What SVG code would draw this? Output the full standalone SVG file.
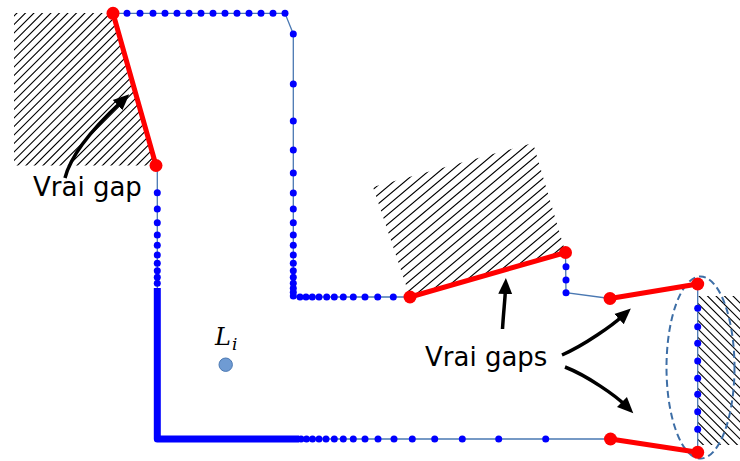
<svg xmlns="http://www.w3.org/2000/svg" width="740" height="461" viewBox="0 0 740 461">
<style>
.wall{stroke:#4a78b2;stroke-width:1.3;fill:none}
.pt{fill:#0000ff}
.gap{stroke:#ff0000;stroke-width:5;stroke-linecap:round;fill:none}
.gp{fill:#ff0000}
.arr{stroke:#000;stroke-width:3.5;fill:none;marker-end:url(#head)}
.lbl{font-family:"DejaVu Sans",sans-serif;font-size:26px;fill:#000}
.hl{stroke:#000;stroke-width:1.15;fill:none}
</style>
<defs>
<clipPath id="cA"><polygon points="14,13 113,13 156,165.5 14,165.5"/></clipPath>
<clipPath id="cB"><polygon points="410,297 373,187 533,143 565.5,252.5"/></clipPath>
<clipPath id="cC"><polygon points="698,296 740,296 740,445 698,445"/></clipPath>
<marker id="head" markerUnits="userSpaceOnUse" viewBox="0 -8 17 16" markerWidth="17" markerHeight="16" refX="4" refY="0" orient="auto"><path d="M0,-7 L16,0 L0,7 z" fill="#000"/></marker>
</defs>

<g id="obstacles">
<path class="hl" clip-path="url(#cA)" d="M-145,175 l170,-170 m-161.5,170 l170,-170 m-161.5,170 l170,-170 m-161.5,170 l170,-170 m-161.5,170 l170,-170 m-161.5,170 l170,-170 m-161.5,170 l170,-170 m-161.5,170 l170,-170 m-161.5,170 l170,-170 m-161.5,170 l170,-170 m-161.5,170 l170,-170 m-161.5,170 l170,-170 m-161.5,170 l170,-170 m-161.5,170 l170,-170 m-161.5,170 l170,-170 m-161.5,170 l170,-170 m-161.5,170 l170,-170 m-161.5,170 l170,-170 m-161.5,170 l170,-170 m-161.5,170 l170,-170 m-161.5,170 l170,-170 m-161.5,170 l170,-170 m-161.5,170 l170,-170 m-161.5,170 l170,-170 m-161.5,170 l170,-170 m-161.5,170 l170,-170 m-161.5,170 l170,-170 m-161.5,170 l170,-170 m-161.5,170 l170,-170 m-161.5,170 l170,-170 m-161.5,170 l170,-170 m-161.5,170 l170,-170 m-161.5,170 l170,-170 m-161.5,170 l170,-170 m-161.5,170 l170,-170 m-161.5,170 l170,-170"/>
<path class="hl" clip-path="url(#cB)" d="M300,250.8 l291,-244.3 m-291,253.7 l291,-244.3 m-291,253.7 l291,-244.3 m-291,253.7 l291,-244.3 m-291,253.7 l291,-244.3 m-291,253.7 l291,-244.3 m-291,253.7 l291,-244.3 m-291,253.7 l291,-244.3 m-291,253.7 l291,-244.3 m-291,253.7 l291,-244.3 m-291,253.7 l291,-244.3 m-291,253.7 l291,-244.3 m-291,253.7 l291,-244.3 m-291,253.7 l291,-244.3 m-291,253.7 l291,-244.3 m-291,253.7 l291,-244.3 m-291,253.7 l291,-244.3 m-291,253.7 l291,-244.3 m-291,253.7 l291,-244.3 m-291,253.7 l291,-244.3 m-291,253.7 l291,-244.3 m-291,253.7 l291,-244.3 m-291,253.7 l291,-244.3 m-291,253.7 l291,-244.3 m-291,253.7 l291,-244.3"/>
<path class="hl" clip-path="url(#cC)" d="M540,290 l160,160 m-151.5,-160 l160,160 m-151.5,-160 l160,160 m-151.5,-160 l160,160 m-151.5,-160 l160,160 m-151.5,-160 l160,160 m-151.5,-160 l160,160 m-151.5,-160 l160,160 m-151.5,-160 l160,160 m-151.5,-160 l160,160 m-151.5,-160 l160,160 m-151.5,-160 l160,160 m-151.5,-160 l160,160 m-151.5,-160 l160,160 m-151.5,-160 l160,160 m-151.5,-160 l160,160 m-151.5,-160 l160,160 m-151.5,-160 l160,160 m-151.5,-160 l160,160 m-151.5,-160 l160,160 m-151.5,-160 l160,160 m-151.5,-160 l160,160 m-151.5,-160 l160,160 m-151.5,-160 l160,160"/>
</g>

<g id="scan">
<polyline class="wall" points="113,13.3 285,13.3 293.3,34 293.3,297 410,297 565.5,252.5 566,292.7 610,298.5 697.7,284 697.7,452.3 610.5,439 157.3,439 157.3,168 156,165.5"/>
<polyline points="157.3,288 157.3,439 299,439" fill="none" stroke="#0000ff" stroke-width="7" stroke-linejoin="round"/>
<g class="pt">
<circle cx="127" cy="13.3" r="3.5"/><circle cx="140" cy="13.3" r="3.5"/><circle cx="153" cy="13.3" r="3.5"/><circle cx="165" cy="13.3" r="3.5"/><circle cx="177" cy="13.3" r="3.5"/><circle cx="189" cy="13.3" r="3.5"/><circle cx="201" cy="13.3" r="3.5"/><circle cx="213" cy="13.3" r="3.5"/><circle cx="225" cy="13.3" r="3.5"/><circle cx="237" cy="13.3" r="3.5"/><circle cx="249" cy="13.3" r="3.5"/><circle cx="261" cy="13.3" r="3.5"/><circle cx="273" cy="13.3" r="3.5"/><circle cx="285" cy="13.3" r="3.5"/>
<circle cx="293.3" cy="34" r="3.5"/><circle cx="293.3" cy="84" r="3.5"/><circle cx="293.3" cy="121" r="3.5"/><circle cx="293.3" cy="150" r="3.5"/><circle cx="293.3" cy="173" r="3.5"/><circle cx="293.3" cy="193" r="3.5"/><circle cx="293.3" cy="209" r="3.5"/><circle cx="293.3" cy="222.7" r="3.5"/><circle cx="293.3" cy="235" r="3.5"/><circle cx="293.3" cy="245.3" r="3.5"/><circle cx="293.3" cy="255" r="3.5"/><circle cx="293.3" cy="263.3" r="3.5"/><circle cx="293.3" cy="270.7" r="3.5"/><circle cx="293.3" cy="277.3" r="3.5"/><circle cx="293.3" cy="283.3" r="3.5"/><circle cx="293.3" cy="288.3" r="3.5"/><circle cx="293.3" cy="292.3" r="3.5"/><circle cx="293.3" cy="296" r="3.5"/>
<circle cx="300" cy="297" r="3.5"/><circle cx="306" cy="297" r="3.5"/><circle cx="312.3" cy="297" r="3.5"/><circle cx="319" cy="297" r="3.5"/><circle cx="326.7" cy="297" r="3.5"/><circle cx="334.3" cy="297" r="3.5"/><circle cx="343.3" cy="297" r="3.5"/><circle cx="353.3" cy="297" r="3.5"/><circle cx="365" cy="297" r="3.5"/><circle cx="377.7" cy="297" r="3.5"/><circle cx="393.3" cy="297" r="3.5"/>
<circle cx="566" cy="266.7" r="3.5"/><circle cx="566" cy="280" r="3.5"/><circle cx="566" cy="292.7" r="3.5"/>
<circle cx="697.7" cy="308.3" r="3.5"/><circle cx="697.7" cy="326.7" r="3.5"/><circle cx="697.7" cy="343.3" r="3.5"/><circle cx="697.7" cy="361" r="3.5"/><circle cx="697.7" cy="378.3" r="3.5"/><circle cx="697.7" cy="394.3" r="3.5"/><circle cx="697.7" cy="411.7" r="3.5"/><circle cx="697.7" cy="429.3" r="3.5"/>
<circle cx="545.7" cy="439" r="3.5"/><circle cx="498.7" cy="439" r="3.5"/><circle cx="462.3" cy="439" r="3.5"/><circle cx="434.7" cy="439" r="3.5"/><circle cx="412.3" cy="439" r="3.5"/><circle cx="394" cy="439" r="3.5"/><circle cx="378" cy="439" r="3.5"/><circle cx="365" cy="439" r="3.5"/><circle cx="353.3" cy="439" r="3.5"/><circle cx="343.3" cy="439" r="3.5"/><circle cx="334.3" cy="439" r="3.5"/><circle cx="326" cy="439" r="3.5"/><circle cx="319" cy="439" r="3.5"/><circle cx="312.5" cy="439" r="3.5"/><circle cx="306.5" cy="439" r="3.5"/><circle cx="301" cy="439" r="3.5"/>
<circle cx="157.3" cy="192.7" r="3.5"/><circle cx="157.3" cy="209" r="3.5"/><circle cx="157.3" cy="222.7" r="3.5"/><circle cx="157.3" cy="235" r="3.5"/><circle cx="157.3" cy="245.3" r="3.5"/><circle cx="157.3" cy="255" r="3.5"/><circle cx="157.3" cy="263.3" r="3.5"/><circle cx="157.3" cy="270.7" r="3.5"/><circle cx="157.3" cy="277.3" r="3.5"/><circle cx="157.3" cy="283.3" r="3.5"/>
</g>
</g>

<g id="region">
<ellipse cx="700.5" cy="367.5" rx="34" ry="91" fill="none" stroke="#3d6ea6" stroke-width="2" stroke-dasharray="7,4"/>
</g>

<g id="gaps">
<line class="gap" x1="113" y1="13.3" x2="156" y2="165.5"/>
<line class="gap" x1="410" y1="297" x2="565.5" y2="252.5"/>
<line class="gap" x1="610" y1="298.5" x2="697.7" y2="284"/>
<line class="gap" x1="610.5" y1="439" x2="697.7" y2="452.3"/>
<g class="gp">
<circle cx="113" cy="13.3" r="6.5"/><circle cx="156" cy="165.5" r="6.5"/>
<circle cx="410" cy="297" r="6.5"/><circle cx="565.5" cy="252.5" r="6.5"/>
<circle cx="610" cy="298.5" r="6.5"/><circle cx="697.7" cy="284" r="6.5"/>
<circle cx="610.5" cy="439" r="6.5"/><circle cx="697.7" cy="452.3" r="6.5"/>
</g>
</g>

<g id="Li">
<circle cx="225.7" cy="364.7" r="6.7" fill="#6f9bd3" stroke="#4a78b2" stroke-width="1"/>
<text x="215" y="345" font-family="DejaVu Serif,serif" font-style="italic" font-size="24" fill="#000">L<tspan x="232" y="350" font-size="17">i</tspan></text>
</g>

<g id="connectors">
<path class="arr" d="M65,178 C72,150 105,117 120.5,102.5"/>
<path class="arr" d="M502.5,329 C503.5,312 505,300 505.4,290"/>
<path class="arr" d="M562,355 C585,345 613,324.7 622,316.5"/>
<path class="arr" d="M565,367 C588,376 616.3,396.3 624.8,404.8"/>
</g>

<g id="labels">
<text class="lbl" x="33" y="196">Vrai gap</text>
<text class="lbl" x="425" y="366">Vrai gaps</text>
</g>
</svg>
